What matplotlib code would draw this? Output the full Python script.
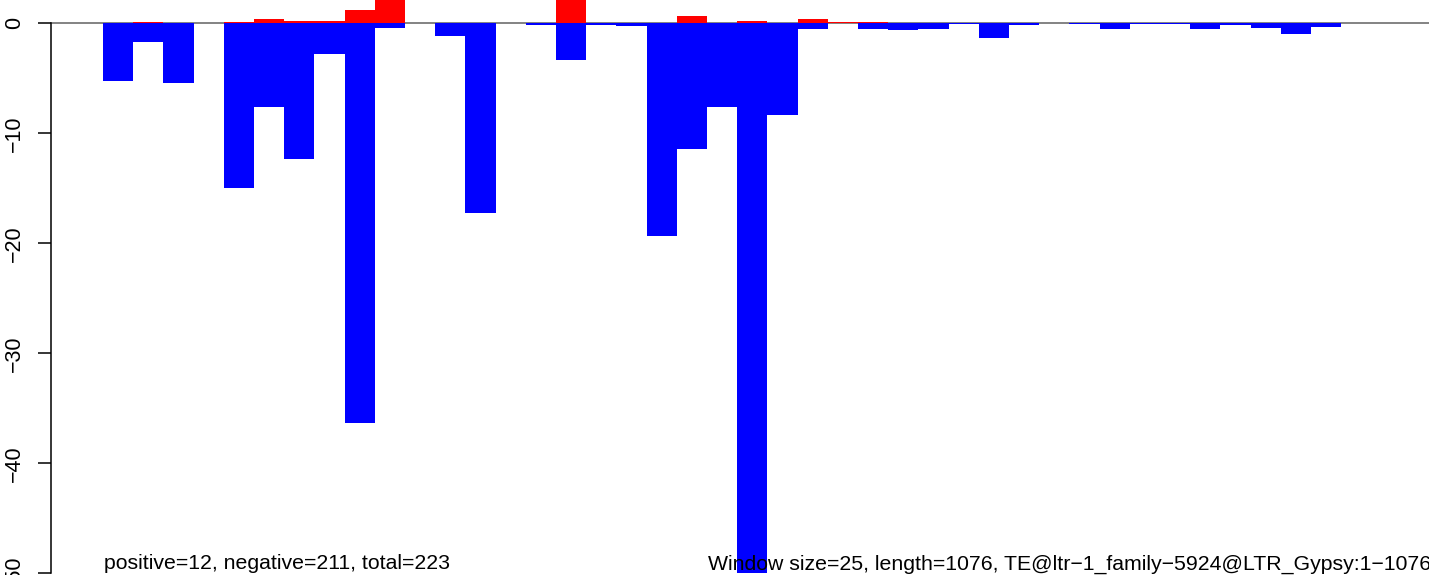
import matplotlib
matplotlib.use("Agg")
import matplotlib.pyplot as plt
import numpy as np

plt.rcParams['font.family'] = ['Liberation Sans', 'DejaVu Sans']

# one bar per 25 bp window (44 windows)
positive = [0, 0.1, 0, 0, 0.15, 0.4, 0.2, 0.2, 1.2, 3.0,
            0, 0, 0, 0, 0, 3.0, 0, 0, 0.05, 0.69,
            0, 0.2, 0.05, 0.39, 0.15, 0.15, 0, 0, 0, 0,
            0, 0, 0, 0, 0, 0, 0, 0, 0, 0,
            0, 0, 0, 0]
negative = [-5.2, -1.7, -5.4, 0, -15.0, -7.6, -12.3, -2.75, -36.3, -0.42,
            0, -1.15, -17.2, 0, -0.15, -3.3, -0.15, -0.24, -19.3, -11.4,
            -7.6, -49.95, -8.3, -0.51, 0, -0.51, -0.6, -0.51, -0.05, -1.33,
            -0.15, 0, -0.05, -0.51, -0.05, -0.05, -0.51, -0.15, -0.42, -0.96,
            -0.33, 0, 0, 0]
yticks = [-50, -40, -30, -20, -10, 0]
left_note = "positive=12, negative=211, total=223"
right_note = "Window size=25, length=1076, TE@ltr\u22121_family\u22125924@LTR_Gypsy:1\u22121076"

W, H = 1429, 575
fig = plt.figure(figsize=(W / 100, H / 100), dpi=100)
ax = fig.add_axes([51 / W, 0, 1 - 51 / W, 1])

x = np.arange(len(positive))
ax.axhline(0, color='#6e6e6e', lw=1.2, zorder=1)
ax.bar(x, positive, width=1, align='edge', color='#ff0000', linewidth=0, zorder=2)
ax.bar(x, negative, width=1, align='edge', color='#0000ff', linewidth=0, zorder=2)

ax.set_xlim(-52 / 30.2, (W - 103) / 30.2)
ax.set_ylim(-50.15, 2.12)

for s in ['top', 'right', 'bottom']:
    ax.spines[s].set_visible(False)
ax.spines['left'].set_bounds(-50, 0)
ax.spines['left'].set_linewidth(1.1)
ax.set_xticks([])
ax.set_yticks(yticks)
ax.set_yticklabels([f"\u2212{-t}" if t < 0 else "0" for t in yticks],
                   rotation=90, va='center', fontsize=15.5)
ax.tick_params(axis='y', length=9.4, width=1.1, pad=9.5)

ax.text(0.03, -49.65, left_note, fontsize=15.3, ha='left', va='baseline', zorder=3)
ax.text((708 - 103) / 30.2, -49.65, right_note, fontsize=15.3, ha='left', va='baseline', zorder=3)

fig.savefig("out.png", dpi=100)
